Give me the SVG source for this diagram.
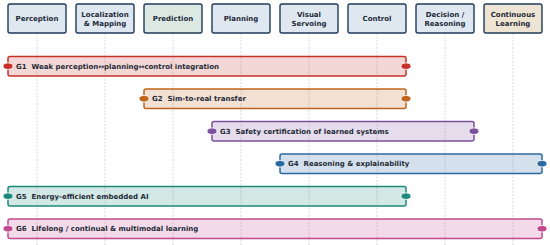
<svg xmlns="http://www.w3.org/2000/svg" width="550" height="245" viewBox="0 0 550 245">
<style>
.hdr rect{stroke:#1f3a5a;stroke-width:1.4}
.hdr text,.bar text{font-family:"DejaVu Sans",sans-serif;font-weight:bold;font-size:7px;fill:#1e2a38}
.hdr text{text-anchor:middle}
.life{stroke:#d6cbd2;stroke-width:0.8;stroke-dasharray:2,1.5}
.bar rect{stroke-width:1.5;fill-opacity:0.2}
.bar ellipse{stroke:#fff;stroke-width:0.8}
</style>
<rect width="550" height="245" fill="#fff"/>
<g id="connectors">
<line class="life" x1="37" y1="33" x2="37" y2="245"/>
<line class="life" x1="105" y1="33" x2="105" y2="245"/>
<line class="life" x1="173" y1="33" x2="173" y2="245"/>
<line class="life" x1="241" y1="33" x2="241" y2="245"/>
<line class="life" x1="309" y1="33" x2="309" y2="245"/>
<line class="life" x1="377" y1="33" x2="377" y2="245"/>
<line class="life" x1="445" y1="33" x2="445" y2="245"/>
<line class="life" x1="513" y1="33" x2="513" y2="245"/>
</g>
<g id="perception" class="hdr"><rect x="8" y="4" width="58" height="29" rx="2" fill="#dfe8f0"/><text x="37" y="21">Perception</text></g>
<g id="localization" class="hdr"><rect x="76" y="4" width="58" height="29" rx="2" fill="#dfe8f0"/><text x="105" y="17">Localization</text><text x="105" y="25.5">&amp; Mapping</text></g>
<g id="prediction" class="hdr"><rect x="144" y="4" width="58" height="29" rx="2" fill="#dce9e3"/><text x="173" y="21">Prediction</text></g>
<g id="planning" class="hdr"><rect x="212" y="4" width="58" height="29" rx="2" fill="#dfe8f0"/><text x="241" y="21">Planning</text></g>
<g id="visual-servoing" class="hdr"><rect x="280" y="4" width="58" height="29" rx="2" fill="#dfe8f0"/><text x="309" y="17">Visual</text><text x="309" y="25.5">Servoing</text></g>
<g id="control" class="hdr"><rect x="348" y="4" width="58" height="29" rx="2" fill="#dfe8f0"/><text x="377" y="21">Control</text></g>
<g id="decision" class="hdr"><rect x="416" y="4" width="58" height="29" rx="2" fill="#dfe8f0"/><text x="445" y="17">Decision /</text><text x="445" y="25.5">Reasoning</text></g>
<g id="continuous-learning" class="hdr"><rect x="484" y="4" width="58" height="29" rx="2" fill="#ede4d3"/><text x="513" y="17">Continuous</text><text x="513" y="25.5">Learning</text></g>

<g id="g1" class="bar"><rect x="8" y="56.5" width="398" height="19.5" rx="2" fill="#c0392b" stroke="#c8302a"/><ellipse cx="8" cy="66.2" rx="5" ry="3.3" fill="#c8302a"/><ellipse cx="406" cy="66.2" rx="5" ry="3.3" fill="#c8302a"/><text x="16" y="68.7" xml:space="preserve">G1  Weak perception↔planning↔control integration</text></g>
<g id="g2" class="bar"><rect x="144" y="89" width="262" height="19.5" rx="2" fill="#c0661c" stroke="#c0661c"/><ellipse cx="144" cy="98.7" rx="5" ry="3.3" fill="#c0661c"/><ellipse cx="406" cy="98.7" rx="5" ry="3.3" fill="#c0661c"/><text x="152" y="101.2" xml:space="preserve">G2  Sim-to-real transfer</text></g>
<g id="g3" class="bar"><rect x="212" y="121.5" width="262" height="19.5" rx="2" fill="#7d4f9f" stroke="#7d4f9f"/><ellipse cx="212" cy="131.2" rx="5" ry="3.3" fill="#7d4f9f"/><ellipse cx="474" cy="131.2" rx="5" ry="3.3" fill="#7d4f9f"/><text x="220" y="133.7" xml:space="preserve">G3  Safety certification of learned systems</text></g>
<g id="g4" class="bar"><rect x="280" y="154" width="262" height="19.5" rx="2" fill="#2a6aa0" stroke="#2a6aa0"/><ellipse cx="280" cy="163.7" rx="5" ry="3.3" fill="#2a6aa0"/><ellipse cx="542" cy="163.7" rx="5" ry="3.3" fill="#2a6aa0"/><text x="288" y="166.2" xml:space="preserve">G4  Reasoning &amp; explainability</text></g>
<g id="g5" class="bar"><rect x="8" y="186.5" width="398" height="19.5" rx="2" fill="#1e8a7e" stroke="#1e8a7e"/><ellipse cx="8" cy="196.2" rx="5" ry="3.3" fill="#1e8a7e"/><ellipse cx="406" cy="196.2" rx="5" ry="3.3" fill="#1e8a7e"/><text x="16" y="198.7" xml:space="preserve">G5  Energy-efficient embedded AI</text></g>
<g id="g6" class="bar"><rect x="8" y="219" width="534" height="19.5" rx="2" fill="#c2488f" stroke="#c2488f"/><ellipse cx="8" cy="228.7" rx="5" ry="3.3" fill="#c2488f"/><ellipse cx="542" cy="228.7" rx="5" ry="3.3" fill="#c2488f"/><text x="16" y="231.2" xml:space="preserve">G6  Lifelong / continual &amp; multimodal learning</text></g>
</svg>
